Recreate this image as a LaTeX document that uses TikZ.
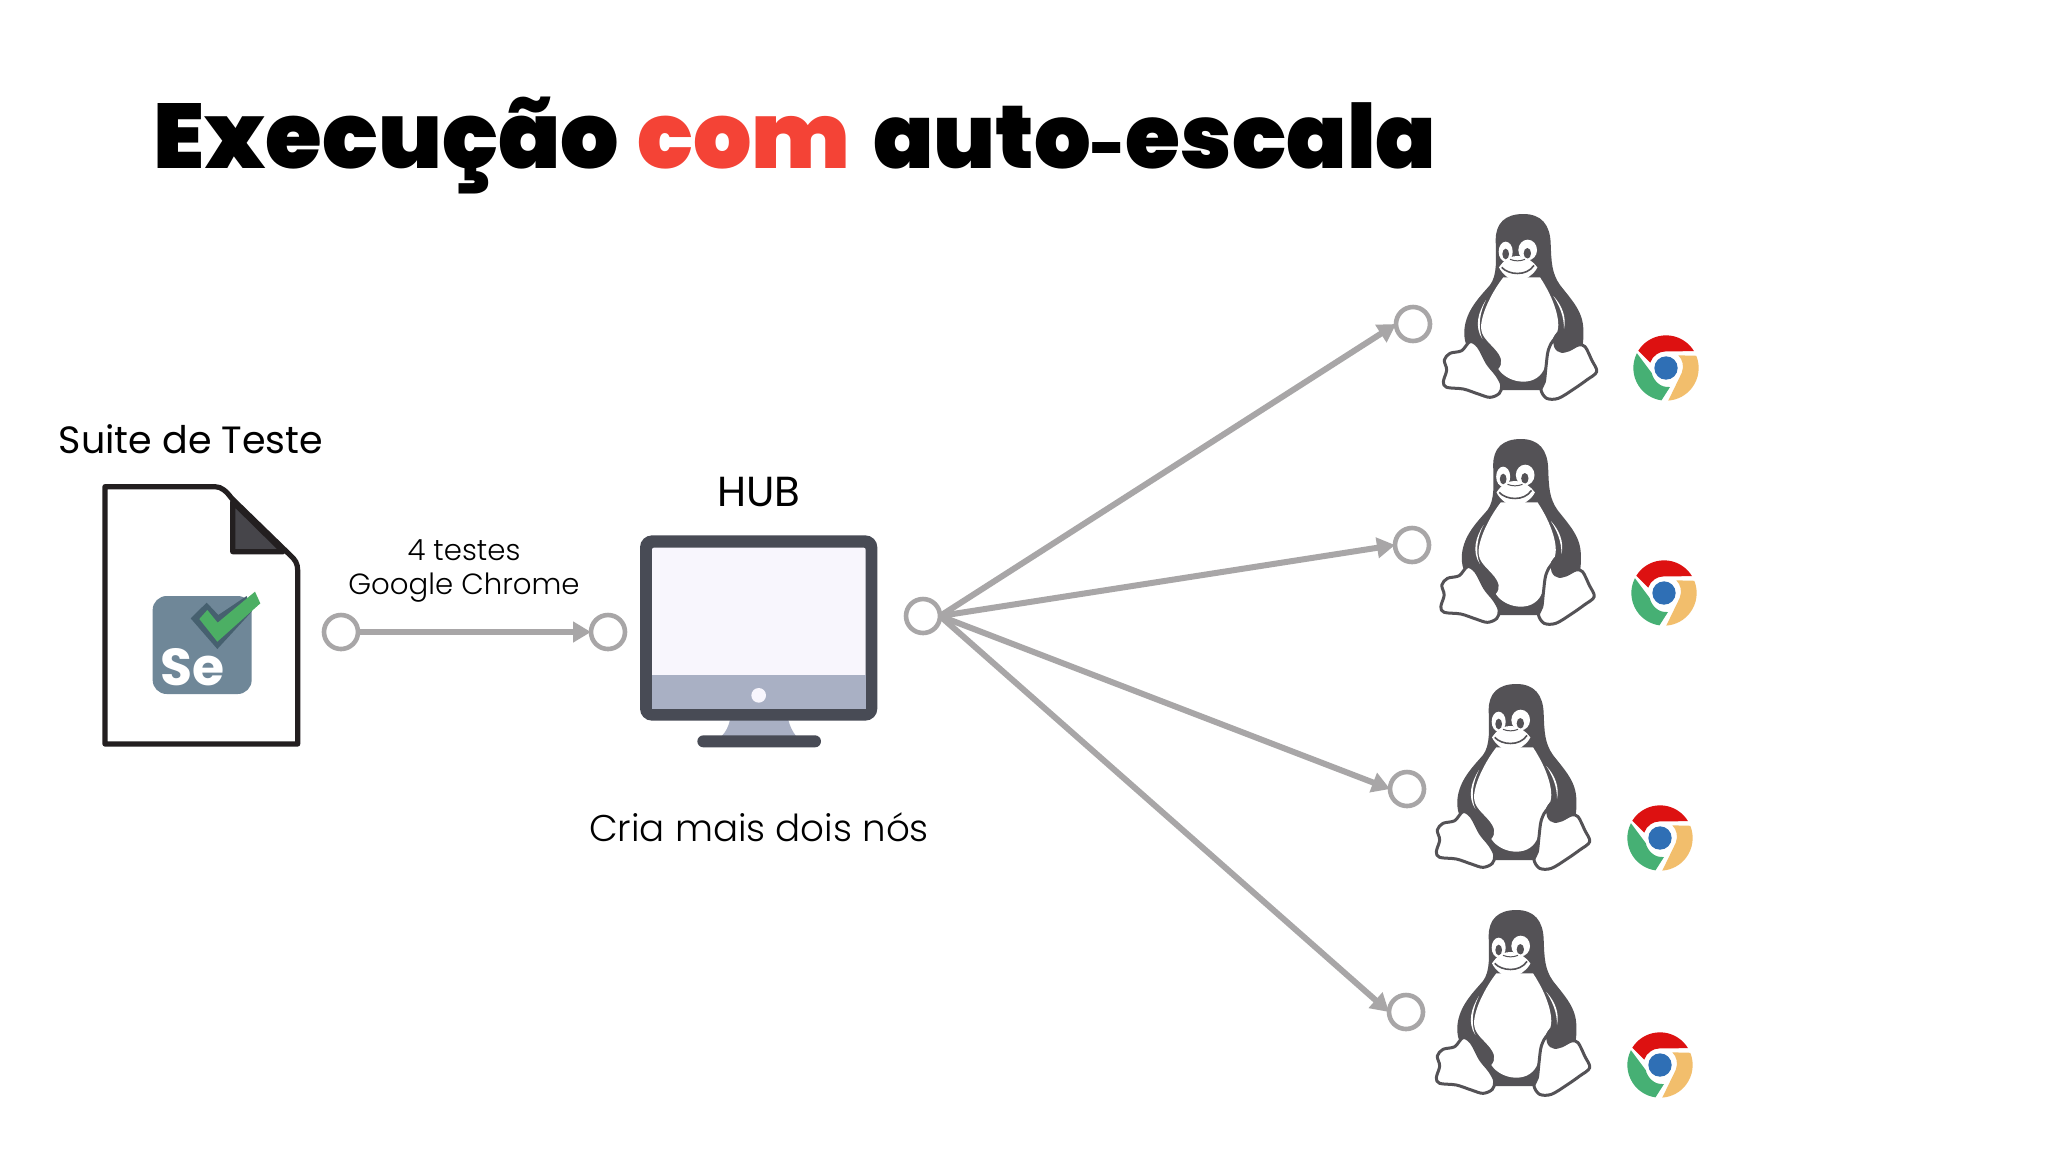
\documentclass[tikz,border=0pt]{standalone}
\usepackage{fontspec}
\setmainfont{Poppins}
\newfontfamily\titlef{Poppins}[UprightFont=* Black]
\newfontfamily\lightf{Poppins}[UprightFont=* Light]
\newfontfamily\semif{Poppins}[UprightFont=* Bold]
\usetikzlibrary{arrows.meta}
\definecolor{ringgray}{HTML}{A8A6A7}
\definecolor{tuxgray}{HTML}{545256}
\definecolor{monidark}{HTML}{484B55}
\definecolor{moniband}{HTML}{A9B0C4}
\definecolor{moniscreen}{HTML}{F8F6FD}
\definecolor{seblue}{HTML}{6F8798}
\definecolor{sedark}{HTML}{46606F}
\definecolor{segreen}{HTML}{4CAF64}
\definecolor{docdark}{HTML}{231F20}
\definecolor{foldgray}{HTML}{46454A}
\definecolor{comred}{HTML}{F44336}
\definecolor{chred}{HTML}{DD1111}
\definecolor{chgreen}{HTML}{46B074}
\definecolor{chyellow}{HTML}{F2BE6C}
\definecolor{chblue}{HTML}{2F6FB5}
\tikzset{
  ring/.style={circle,draw=ringgray,fill=white,line width=2.3pt,minimum size=17pt,inner sep=0pt,outer sep=0pt},
  link/.style={draw=ringgray,line width=3pt,-{Triangle[length=9pt,width=10pt]}},
  lbl/.style={inner sep=0pt,align=center,text=black},
  penguin/.pic={
    \begin{scope}[scale=1/3]
    \fill[tuxgray] (370,72) .. controls (425,72) and (450,105) .. (452,160)
      .. controls (454,215) and (455,250) .. (480,285)
      .. controls (515,330) and (550,365) .. (550,420)
      .. controls (552,470) and (545,500) .. (500,540)
      -- (430,600) -- (300,600) -- (260,520)
      .. controls (210,490) and (190,470) .. (193,420)
      .. controls (198,360) and (240,320) .. (270,285)
      .. controls (292,255) and (288,210) .. (287,150)
      .. controls (287,100) and (315,72) .. (370,72) -- cycle;
    \fill[white] (310,262) .. controls (280,300) and (245,365) .. (243,410)
      .. controls (243,440) and (265,455) .. (285,478)
      .. controls (305,500) and (310,520) .. (295,537)
      .. controls (310,560) and (340,575) .. (370,575)
      .. controls (400,575) and (425,560) .. (435,530)
      .. controls (440,490) and (450,450) .. (472,425)
      .. controls (482,395) and (465,330) .. (420,262) -- cycle;
    \fill[white] (258,330) .. controls (235,365) and (222,410) .. (247,447)
      .. controls (232,410) and (240,365) .. (258,330) -- cycle;
    \fill[white] (460,318) .. controls (485,345) and (500,380) .. (492,417)
      .. controls (492,380) and (480,350) .. (460,318) -- cycle;
    \draw[tuxgray,fill=white,line width=1.5pt,line join=round]
      plot[smooth cycle,tension=.55] coordinates {(210,455) (235,470) (262,520) (290,555) (305,585) (298,610) (270,622) (235,612) (190,597) (140,592) (130,575) (140,540) (133,510) (150,490) (185,482)};
    \draw[tuxgray,fill=white,line width=1.5pt,line join=round]
      plot[smooth cycle,tension=.55] coordinates {(463,450) (445,480) (438,530) (433,575) (423,600) (440,625) (475,625) (520,598) (560,570) (590,545) (575,510) (555,470) (535,465) (505,480) (480,482)};
    \fill[tuxgray] (470,428) .. controls (500,422) and (525,440) .. (533,455)
      .. controls (520,470) and (490,490) .. (472,484)
      .. controls (455,470) and (455,440) .. (470,428) -- cycle;
    \fill[white] (317,185) ellipse [x radius=21,y radius=30];
    \fill[white] (383,180) ellipse [x radius=28,y radius=31];
    \fill[tuxgray] (317,192) ellipse [x radius=10,y radius=16];
    \fill[tuxgray] (382,190) ellipse [x radius=11,y radius=16];
    \fill[white] (297,232) .. controls (315,205) and (335,197) .. (355,198)
      .. controls (380,200) and (400,215) .. (412,232)
      .. controls (405,250) and (375,272) .. (352,275)
      .. controls (330,272) and (305,250) .. (297,232) -- cycle;
    \draw[tuxgray,line width=.8pt] (305,232) .. controls (325,255) and (380,260) .. (402,226);
    \draw[tuxgray,line width=.5pt] (330,208) .. controls (345,214) and (360,214) .. (375,208);
    \end{scope}
  },
  chromeicon/.pic={
    \begin{scope}[scale=1/3]
    \fill[chred] (-148:98) arc (-148:-31:98) -- (0,-50) arc (-90:-161:50) -- cycle;
    \fill[chgreen] (207:98) arc (207:98:98) -- (12,57)
      .. controls (-20,60) and (-38,35) .. (-43,15) -- cycle;
    \fill[chyellow] (-22:98) arc (-22:86:98) -- (47,15)
      .. controls (55,-5) and (50,-25) .. (37,-38) -- cycle;
    \fill[chblue] (0,0) circle [radius=35];
    \end{scope}
  },
}
\begin{document}
\begin{tikzpicture}[x=0.5pt,y=-0.5pt]
\useasboundingbox (0,0) rectangle (2048,1152);
\fill[white] (0,0) rectangle (2048,1152);

\node[anchor=base west,inner sep=0pt] (title1) at (153,168)
  {\titlef\fontsize{45.9}{50}\selectfont Execução};
\node[anchor=base west,inner sep=0pt,text=comred] (title2) at (637,168)
  {\titlef\fontsize{45.9}{50}\selectfont com};
\node[anchor=base west,inner sep=0pt] (title3) at (873,168)
  {\titlef\fontsize{44.5}{50}\selectfont auto{\fontsize{30}{30}\selectfont -}escala};

\begin{scope}[shift={(80,470)},scale=1/3]
  \draw[docdark,fill=white,line width=2.6pt,line join=round]
    (75,50) -- (405,50) .. controls (425,50) and (440,65) .. (455,85)
    -- (630,255) .. controls (645,268) and (653,280) .. (653,300)
    -- (653,822) -- (75,822) -- cycle;
  \draw[docdark,fill=foldgray,line width=2.6pt,line join=round]
    (458,95) -- (458,245) -- (610,245) -- cycle;
  \fill[seblue,rounded corners=7pt] (218,378) rectangle (515,672);
  \fill[sedark] (332,445) -- (380,398) -- (415,435) -- (500,378) -- (515,425) -- (412,537) -- cycle;
  \fill[segreen] (358,447) -- (382,420) -- (413,458) -- (525,365) -- (541,400) -- (412,515) -- cycle;
  \node[inner sep=0pt,text=white] (se) at (338,592) {\semif\fontsize{26}{26}\selectfont Se};
\end{scope}
\node[lbl,font=\fontsize{19}{22}\selectfont] (suite) at (191,439) {Suite de Teste};

\begin{scope}[shift={(620,520)},scale=1/3]
  \fill[moniband] (330,600) -- (505,600) .. controls (510,620) and (518,635) .. (528,648) -- (305,648) .. controls (318,635) and (325,620) .. (330,600) -- cycle;
  \fill[monidark,rounded corners=6pt] (60,46) rectangle (772,602);
  \fill[moniscreen,rounded corners=1pt] (96,83) rectangle (737,566);
  \fill[moniband] (96,465) rectangle (737,566);
  \fill[moniscreen] (416,526) circle [radius=22];
  \fill[monidark,rounded corners=3pt] (232,646) rectangle (603,682);
\end{scope}
\node[lbl,font=\fontsize{21}{22}\selectfont] (hubl) at (759,492) {HUB};
\node[lbl,font=\lightf\fontsize{18.6}{22}\selectfont] (cria) at (759,827) {Cria mais dois nós};
\node[lbl,font=\lightf\fontsize{14.6}{18}\selectfont] (t4) at (464,550) {4 testes};
\node[lbl,font=\lightf\fontsize{14.6}{18}\selectfont] (gc) at (464,588) {Google Chrome};

\node[ring] (s1) at (341,632) {};
\node[ring] (s2) at (608,632) {};
\node[ring] (hub) at (923,616) {};
\node[ring] (n1) at (1413,324) {};
\node[ring] (n2) at (1412,545) {};
\node[ring] (n3) at (1407,789) {};
\node[ring] (n4) at (1406,1012) {};
\draw[link] (s1) -- (s2);
\draw[link] (hub.east) -- (n1.west);
\draw[link] (hub.east) -- (n2.west);
\draw[link] (hub.east) -- (n3.west);
\draw[link] (hub.east) -- (n4.west);

\pic at (1400,190) {penguin};
\pic at (1397.5,415) {penguin};
\pic at (1393,660) {penguin};
\pic at (1393,886) {penguin};

\pic at (1666,368) {chromeicon};
\pic at (1664,593) {chromeicon};
\pic at (1660,838) {chromeicon};
\pic at (1660,1065) {chromeicon};
\end{tikzpicture}
\end{document}
